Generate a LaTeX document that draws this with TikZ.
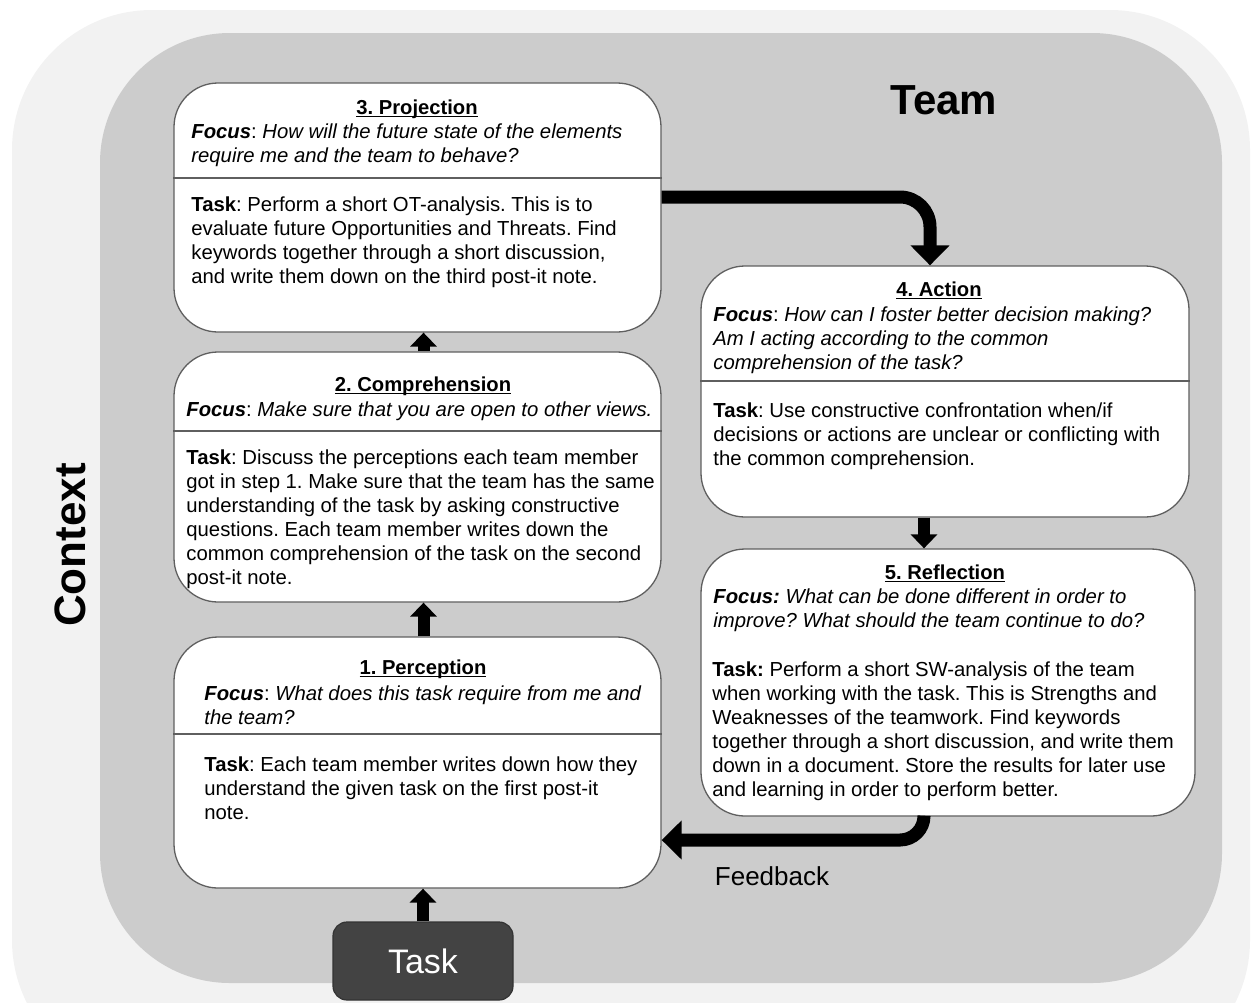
\documentclass[tikz,border=0pt]{standalone}
\usepackage{fontspec}
\setmainfont{Liberation Sans}
\usetikzlibrary{arrows.meta,fit}
\definecolor{ctxgray}{HTML}{F2F2F2}
\definecolor{teamgray}{HTML}{CCCCCC}
\definecolor{taskgray}{HTML}{434343}
\definecolor{edgegray}{HTML}{5F5F5F}
\tikzset{
  stepbox/.style={draw=edgegray, line width=0.65pt, fill=white, rounded corners=22pt, inner sep=0pt},
  steptitle/.style={font=\bfseries\fontsize{10.1}{12}\selectfont, anchor=base},
  steptext/.style={font=\fontsize{10.15}{12}\selectfont, align=left, anchor=north west, inner sep=0pt},
  divider/.style={draw=edgegray, line width=0.6pt},
  bigarrow/.style={line width=6.5pt, -{Triangle[width=19pt,length=10pt]}},
  smallarrow/.style={line width=6pt, -{Triangle[width=13pt,length=7pt]}},
}
\newcommand{\focus}{\textbf{\textit{Focus}}}
\newcommand{\steptitletext}[1]{\underline{\smash{#1}}}
\frenchspacing

\begin{document}
\begin{tikzpicture}[x=0.5pt, y=-0.5pt]
\clip (0,0) rectangle (1252,1002);
\fill[ctxgray, rounded corners=70pt] (12,10) rectangle (1250,1080);
\fill[teamgray, rounded corners=65pt] (100,33) rectangle (1222,983);

\node[font=\bfseries\fontsize{21}{25}\selectfont] (team) at (944,100) {Team};
\node[rotate=90, font=\bfseries\fontsize{22}{26}\selectfont] (context) at (70,545) {Context};

% the five steps
\node[stepbox, fit={(174,83) (661,332)}] (proj) {};
\node[stepbox, fit={(174,352) (661,602)}] (comp) {};
\node[stepbox, fit={(174,637) (661,888)}] (perc) {};
\node[stepbox, fit={(701,266) (1189,517)}] (act) {};
\node[stepbox, fit={(701,549) (1195,816)}] (refl) {};

\draw[divider] (proj.west |- 0,178) -- (proj.east |- 0,178);
\draw[divider] (comp.west |- 0,431) -- (comp.east |- 0,431);
\draw[divider] (perc.west |- 0,734) -- (perc.east |- 0,734);
\draw[divider] (act.west |- 0,381) -- (act.east |- 0,381);

\node[steptitle] (proj-title) at (417,114) {\steptitletext{3. Projection}};
\node[steptext] (proj-focus) at (191,123) {\focus: \textit{How will the future state of the elements}\\
  \textit{require me and the team to behave?}};
\node[steptext] (proj-task) at (191,196) {\textbf{Task}: Perform a short OT-analysis. This is to\\
  evaluate future Opportunities and Threats. Find\\
  keywords together through a short discussion,\\
  and write them down on the third post-it note.};

\node[steptitle] (comp-title) at (423,391) {\steptitletext{2. Comprehension}};
\node[steptext] (comp-focus) at (186,401) {\focus: \textit{Make sure that you are open to other views.}};
\node[steptext] (comp-task) at (186,449) {\textbf{Task}: Discuss the perceptions each team member\\
  got in step 1. Make sure that the team has the same\\
  understanding of the task by asking constructive\\
  questions. Each team member writes down the\\
  common comprehension of the task on the second\\
  post-it note.};

\node[steptitle] (perc-title) at (423,674) {\steptitletext{1. Perception}};
\node[steptext] (perc-focus) at (204,685) {\focus: \textit{What does this task require from me and}\\
  \textit{the team?}};
\node[steptext] (perc-task) at (204,756) {\textbf{Task}: Each team member writes down how they\\
  understand the given task on the first post-it\\
  note.};

\node[steptitle] (act-title) at (939,296) {\steptitletext{4. Action}};
\node[steptext] (act-focus) at (713,306) {\focus: \textit{How can I foster better decision making?}\\
  \textit{Am I acting according to the common}\\
  \textit{comprehension of the task?}};
\node[steptext] (act-task) at (713,402) {\textbf{Task}: Use constructive confrontation when/if\\
  decisions or actions are unclear or conflicting with\\
  the common comprehension.};

\node[steptitle] (refl-title) at (945,579) {\steptitletext{5. Reflection}};
\node[steptext] (refl-focus) at (713,588) {\textbf{\textit{Focus:}} \textit{What can be done different in order to}\\
  \textit{improve? What should the team continue to do?}};
\node[steptext] (refl-task) at (712,661) {\textbf{Task:} Perform a short SW-analysis of the team\\
  when working with the task. This is Strengths and\\
  Weaknesses of the teamwork. Find keywords\\
  together through a short discussion, and write them\\
  down in a document. Store the results for later use\\
  and learning in order to perform better.};

\node[fill=taskgray, draw=black!80, line width=0.6pt, rounded corners=7pt, minimum width=90pt,
  minimum height=39pt, text=white, font=\fontsize{17}{20}\selectfont] (task) at (423,961) {Task};

% flow
\draw[smallarrow] (task.north) -- (task.north |- perc.south);
\draw[smallarrow] ([xshift=3pt]perc.north) -- ([xshift=3pt]comp.south);
\draw[smallarrow] ([xshift=3pt]comp.north) -- ([xshift=3pt]proj.south);
\draw[bigarrow, rounded corners=15pt] (proj.east |- 0,197) -| ([xshift=-7.5pt]act.north);
\draw[smallarrow] ([xshift=-10.5pt]act.south) -- ([xshift=-10.5pt]act.south |- refl.north);
\draw[bigarrow, rounded corners=12pt] ([xshift=-12pt]refl.south) |- (perc.east |- 0,840);
\node[font=\fontsize{13}{15}\selectfont] (feedback) at (772,876) {Feedback};
\end{tikzpicture}
\end{document}
